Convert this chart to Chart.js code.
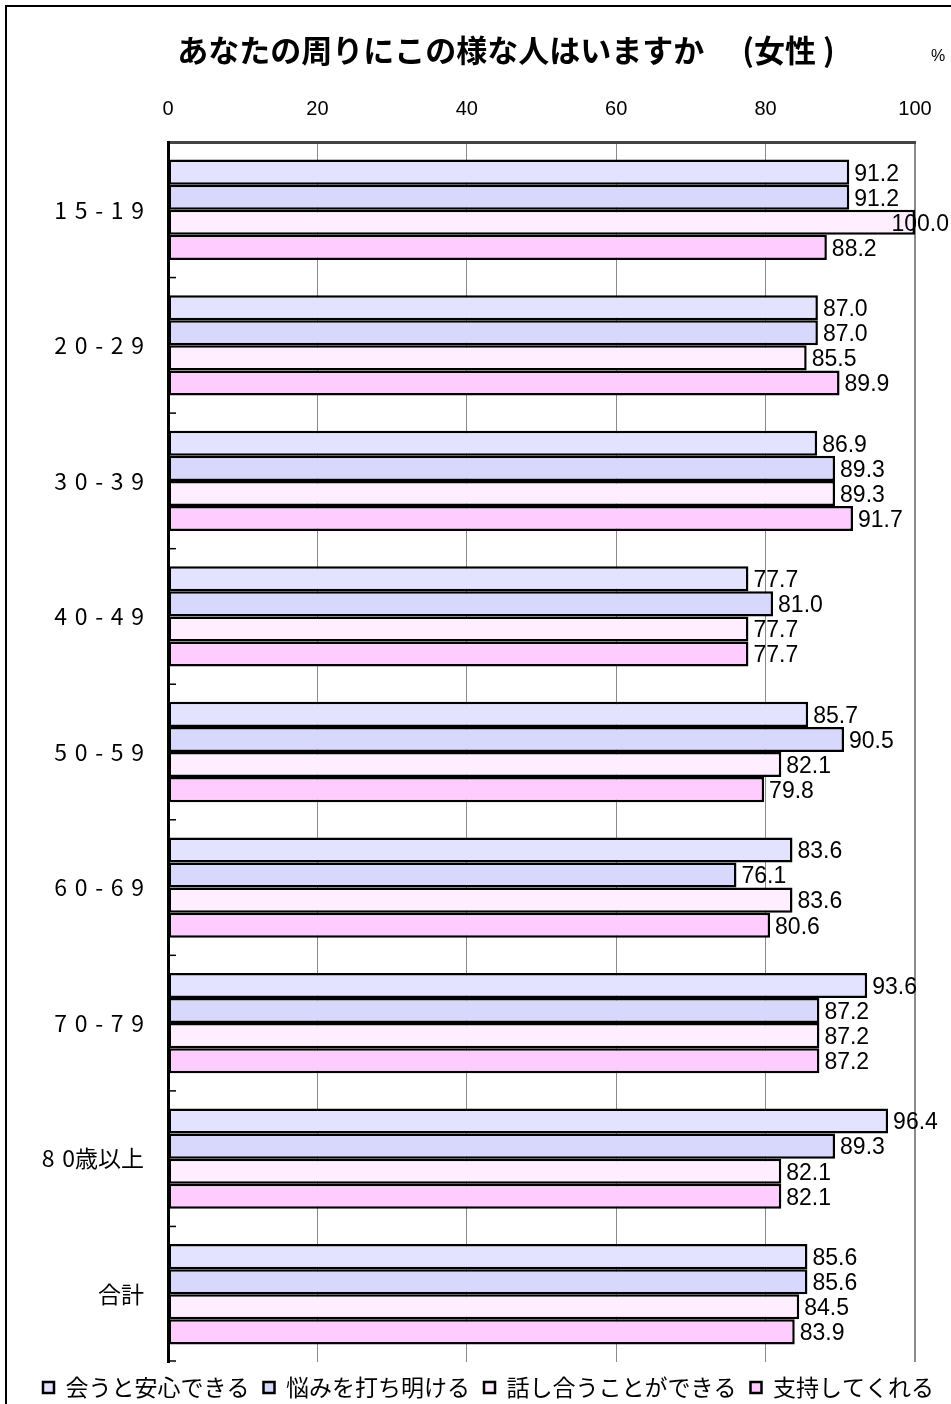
<!DOCTYPE html>
<html><head><meta charset="utf-8">
<script src="https://cdn.jsdelivr.net/npm/chart.js@4"></script>
<style>
html,body{margin:0;padding:0;background:#fff;overflow:hidden;}
#wrap{position:relative;width:951px;height:1404px;}
#frame{position:absolute;left:5px;top:5px;width:1000px;height:1500px;border-left:2px solid #000;border-top:2px solid #000;pointer-events:none;}
canvas{display:block;}
</style></head>
<body>
<div id="wrap"><canvas id="c" width="951" height="1404"></canvas><div id="frame"></div></div>
<script>
const categories = ['1\u20045\u2004-\u20041\u20049','2\u20040\u2004-\u20042\u20049','3\u20040\u2004-\u20043\u20049','4\u20040\u2004-\u20044\u20049','5\u20040\u2004-\u20045\u20049','6\u20040\u2004-\u20046\u20049','7\u20040\u2004-\u20047\u20049','8\u20040歳以上','合計'];
const seriesNames = ['会うと安心できる','悩みを打ち明ける','話し合うことができる','支持してくれる'];
const s1 = [91.2, 87.0, 86.9, 77.7, 85.7, 83.6, 93.6, 96.4, 85.6];
const s2 = [91.2, 87.0, 89.3, 81.0, 90.5, 76.1, 87.2, 89.3, 85.6];
const s3 = [100.0, 85.5, 89.3, 77.7, 82.1, 83.6, 87.2, 82.1, 84.5];
const s4 = [88.2, 89.9, 91.7, 77.7, 79.8, 80.6, 87.2, 82.1, 83.9];
const xTicks = [0, 20, 40, 60, 80, 100];
const titleText = 'あなたの周りにこの様な人はいますか\u3000 (女性 )';
const unitText = '%';

const colors = ['#E3E3FF', '#D8D8FC', '#FFEEFF', '#FFCCFF'];
const seriesData = [s1, s2, s3, s4];

const extras = {
  id: 'extras',
  afterDraw(chart) {
    const ctx = chart.ctx;
    const y = chart.scales.y;
    const ca = chart.chartArea;
    ctx.save();
    // inward ticks on the category axis at category boundaries
    ctx.strokeStyle = '#000';
    ctx.lineWidth = 1.5;
    for (let i = 0; i < categories.length; i++) {
      const yb = i < categories.length - 1 ? (y.getPixelForValue(i) + y.getPixelForValue(i + 1)) / 2 : ca.bottom - 1;
      ctx.beginPath();
      ctx.moveTo(ca.left, yb);
      ctx.lineTo(ca.left + 8, yb);
      ctx.stroke();
    }
    // value labels
    ctx.fillStyle = '#000';
    ctx.font = '23px "Liberation Sans", Arial, sans-serif';
    ctx.textAlign = 'left';
    ctx.textBaseline = 'middle';
    chart.data.datasets.forEach((ds, di) => {
      const meta = chart.getDatasetMeta(di);
      meta.data.forEach((el, i) => {
        const txt = ds.data[i].toFixed(1);
        const w = ctx.measureText(txt).width;
        let x = el.x + 5;
        if (x + w > chart.width - 2) x = chart.width - 2 - w;
        ctx.fillText(txt, x, el.y + 2);
      });
    });
    // title and unit
    ctx.font = 'bold 31px "Noto Sans CJK JP", sans-serif';
    ctx.textAlign = 'center';
    ctx.fillText(titleText, 506, 50);
    ctx.font = '16px "Liberation Sans", Arial, sans-serif';
    ctx.fillText(unitText, 938, 57);
    ctx.restore();
  }
};

new Chart(document.getElementById('c'), {
  type: 'bar',
  data: {
    labels: categories,
    datasets: seriesNames.map((n, i) => ({
      label: n,
      data: seriesData[i],
      backgroundColor: colors[i],
      borderColor: '#000',
      borderWidth: 2.5,
      borderSkipped: false,
      categoryPercentage: 0.74,
      barPercentage: 1.0
    }))
  },
  options: {
    indexAxis: 'y',
    responsive: false,
    animation: false,
    layout: { padding: { top: 92, right: 0, bottom: -5, left: 26 } },
    scales: {
      x: {
        position: 'top',
        min: 0, max: 100,
        afterBuildTicks(scale) { scale.ticks = xTicks.map(v => ({ value: v })); },
        afterFit(scale) { scale.height = 50; scale.paddingLeft = 0; scale.paddingRight = 0; },
        ticks: {
          color: '#000',
          padding: 21,
          font: { family: '"Liberation Sans", Arial, sans-serif', size: 20 }
        },
        grid: {
          color: '#8a8a8a',
          lineWidth: (c) => (c.tick && c.tick.value === 100 ? 2 : 1),
          drawTicks: false
        },
        border: { color: '#444', width: 3 }
      },
      y: {
        afterFit(scale) { scale.width = 142; },
        ticks: {
          color: '#000',
          padding: 16,
          font: { family: '"Noto Sans CJK JP", sans-serif', size: 23 }
        },
        grid: { display: false },
        border: { color: '#000', width: 3 }
      },
      spacer: {
        type: 'linear',
        axis: 'y',
        position: 'right',
        display: true,
        afterFit(scale) { scale.width = 36; },
        ticks: { display: false },
        grid: { display: false, drawTicks: false },
        border: { display: false }
      }
    },
    plugins: {
      legend: {
        position: 'bottom',
        labels: {
          color: '#000',
          boxWidth: 11,
          boxHeight: 11,
          padding: 14,
          font: { family: '"Noto Sans CJK JP", sans-serif', size: 23 }
        }
      },
      title: { display: false },
      tooltip: { enabled: false }
    }
  },
  plugins: [extras]
});
</script>
</body></html>
